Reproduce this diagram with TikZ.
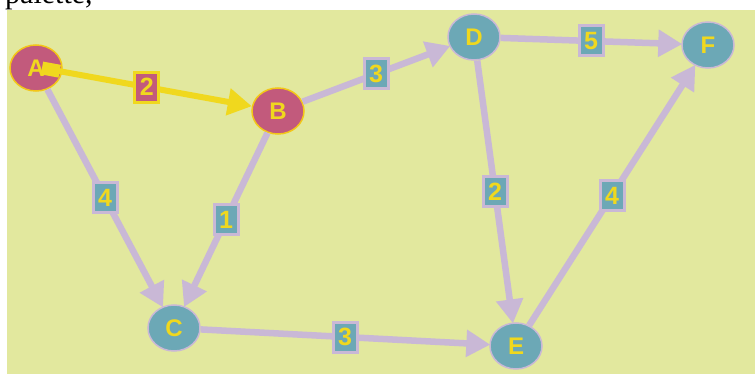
\documentclass[tikz,border=0pt]{standalone}
\usepackage{fontspec}
\setmainfont{Liberation Serif}
\newfontfamily\labelfont{Liberation Sans}
\usetikzlibrary{arrows.meta,shapes.geometric}
\definecolor{bgpanel}{HTML}{E2E89E}
\definecolor{tealnode}{HTML}{6CA8B6}
\definecolor{rosenode}{HTML}{C25A7C}
\definecolor{goldtext}{HTML}{F0D81E}
\definecolor{lilac}{HTML}{C9B8D6}
\tikzset{
  vertex/.style={ellipse, minimum width=52pt, minimum height=46pt, inner sep=0pt,
    line width=1.5pt, text=goldtext, font=\labelfont\bfseries\fontsize{24}{24}\selectfont},
  plainv/.style={vertex, fill=tealnode, draw=lilac},
  pathv/.style={vertex, fill=rosenode, draw=goldtext!80!orange},
  link/.style={draw=lilac, line width=6.5pt,
    -{Triangle[length=24pt,width=26pt]}, shorten >=-1pt},
  pathlink/.style={draw=goldtext, line width=6pt,
    {Rectangle[length=18pt,width=13pt]}-{Triangle[length=24pt,width=26pt]}},
  weight/.style={rectangle, fill=tealnode, draw=lilac, line width=3pt,
    minimum width=24pt, minimum height=30pt, inner sep=0pt, text=goldtext,
    font=\labelfont\bfseries\fontsize{25}{25}\selectfont},
  pathweight/.style={weight, fill=rosenode, draw=goldtext}
}
\begin{document}
\begin{tikzpicture}[x=1pt,y=-1pt]
  \useasboundingbox (0,0) rectangle (755,374);
  \clip (0,0) rectangle (755,374);
  % panel and the caption line above it
  \fill[bgpanel] (7,10) rectangle (755,374);
  \node[anchor=base west, inner sep=0pt, font=\fontsize{30}{30}\selectfont] (cap) at (5,4) {palette,};

  % vertices
  \node[pathv]  (A) at (36,68)   {A};
  \node[pathv]  (B) at (278,111) {B};
  \node[plainv] (C) at (174,328) {C};
  \node[plainv] (D) at (474,37)  {D};
  \node[plainv] (E) at (516,346) {E};
  \node[plainv] (F) at (708,45)  {F};

  % weighted edges
  \draw[link] (A) -- node[weight] (wAC) {4} (C);
  \draw[link] (B) -- node[weight] (wBC) {1} (C);
  \draw[link] (B) -- node[weight] (wBD) {3} (D);
  \draw[link] (D) -- node[weight] (wDF) {5} (F);
  \draw[link] (D) -- node[weight] (wDE) {2} (E);
  \draw[link] (C) -- node[weight] (wCE) {3} (E);
  \draw[link] (E) -- node[weight] (wEF) {4} (F);

  % highlighted edge
  \draw[pathlink] ([xshift=6pt]A.center) -- node[pathweight] (wAB) {2} (B);
\end{tikzpicture}
\end{document}
